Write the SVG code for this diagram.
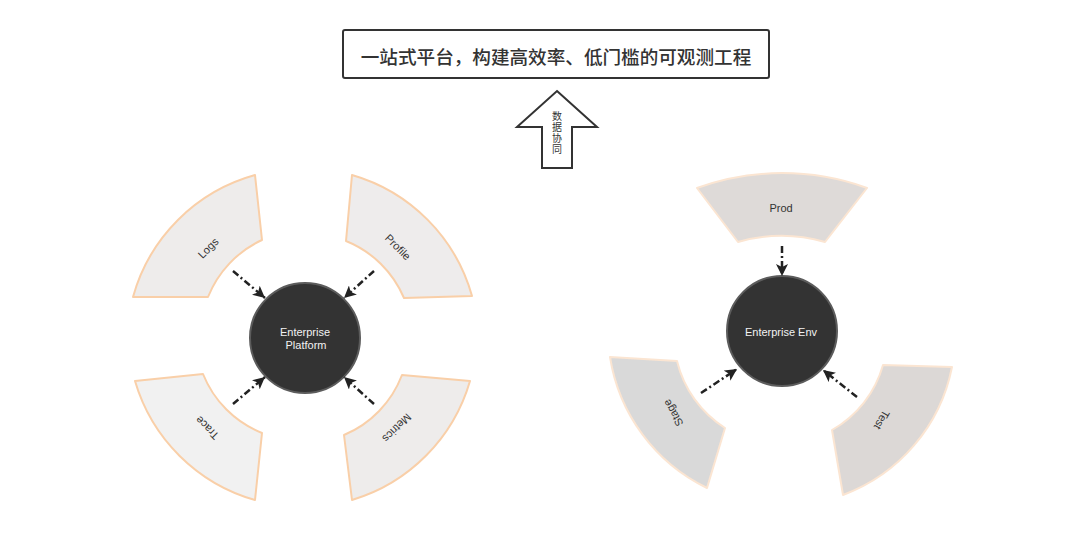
<svg xmlns="http://www.w3.org/2000/svg" width="1080" height="533" viewBox="0 0 1080 533">
<style>
.seg{stroke:#f9cfa8;stroke-width:2;stroke-linejoin:round}
.seg2{stroke:#fbe5d2;stroke-width:2;stroke-linejoin:round}
.lbl{font-family:"Liberation Sans",Arial,sans-serif;font-size:11px;fill:#333;text-anchor:middle;dominant-baseline:central}
.hub{fill:#333;stroke:#5c5c5c;stroke-width:2}
.hubt{font-family:"Liberation Sans",Arial,sans-serif;font-size:11px;fill:#f2f2f2;text-anchor:middle;dominant-baseline:central}
.con{fill:none;stroke:#222;stroke-width:2.5;stroke-dasharray:7 3 2 3;marker-end:url(#ah)}
.cjk{font-family:"Noto Sans CJK SC","Liberation Sans",sans-serif;fill:#333;text-anchor:middle}
</style>
<defs>
<marker id="ah" markerUnits="userSpaceOnUse" markerWidth="14" markerHeight="12" refX="12" refY="6" orient="auto">
<path d="M0,0 L12,6 L0,12 L3,6 Z" fill="#222"/>
</marker>
</defs>
<rect width="1080" height="533" fill="#fff"/>

<g id="title">
<rect x="343" y="30" width="426" height="48" rx="2" fill="#fff" stroke="#333" stroke-width="2"/>
<text class="cjk" x="556" y="55" font-size="18.6" font-weight="500" dominant-baseline="central">一站式平台，构建高效率、低门槛的可观测工程</text>
</g>

<g id="sync-arrow">
<polygon points="557,91 597,127 572,127 572,168 542,168 542,127 517,127" fill="#fff" stroke="#333" stroke-width="2" stroke-linejoin="miter"/>
<text class="cjk" x="557" y="133.5" font-size="10" letter-spacing="1.2" writing-mode="vertical-rl">数据协同</text>
</g>

<g id="logs">
<path class="seg" fill="#eeeceb" d="M133,297 A175,175 0 0 1 255,175 L262,240 A106,106 0 0 0 208,297 Z"/>
<text class="lbl" transform="translate(208,248) rotate(-45)">Logs</text>
</g>
<g id="profile">
<path class="seg" fill="#eeecec" d="M352,175 A175,175 0 0 1 472,296 L404,298 A106,106 0 0 0 346,241 Z"/>
<text class="lbl" transform="translate(398,247) rotate(45)">Profile</text>
</g>
<g id="trace">
<path class="seg" fill="#f1f1f1" d="M135,381 L203,374 A106,106 0 0 0 262,433 L255,500 A175,175 0 0 1 135,381 Z"/>
<text class="lbl" transform="translate(207,428) rotate(225)">Trace</text>
</g>
<g id="metrics">
<path class="seg" fill="#eeeceb" d="M402,375 L470,381 A175,175 0 0 1 352,500 L344,435 A106,106 0 0 0 402,375 Z"/>
<text class="lbl" transform="translate(397,428) rotate(135)">Metrics</text>
</g>
<g id="enterprise-platform">
<circle class="hub" cx="305" cy="338" r="55"/>
<text class="hubt" x="305" y="332">Enterprise</text>
<text class="hubt" x="306" y="345">Platform</text>
</g>

<g id="prod">
<path class="seg2" fill="#dedad8" d="M697,188 A250,250 0 0 1 867,188 L825,242 A160,160 0 0 0 738,242 Z"/>
<text class="lbl" x="781" y="208">Prod</text>
</g>
<g id="stage">
<path class="seg2" fill="#d9d9d9" d="M610,357 L677,361 A110,110 0 0 0 725,428 L707,488 A176,176 0 0 1 610,357 Z"/>
<text class="lbl" transform="translate(673,413) rotate(240)">Stage</text>
</g>
<g id="test">
<path class="seg2" fill="#dcd8d6" d="M883,365 L952,367 A172,172 0 0 1 843,495 L832,430 A108,108 0 0 0 883,365 Z"/>
<text class="lbl" transform="translate(882,420) rotate(120)">Test</text>
</g>
<g id="enterprise-env">
<circle class="hub" cx="782" cy="331" r="55"/>
<text class="hubt" x="781" y="332">Enterprise Env</text>
</g>

<g id="connectors">
<line class="con" x1="233" y1="271" x2="265" y2="298"/>
<line class="con" x1="374" y1="271" x2="344" y2="298"/>
<line class="con" x1="233" y1="404" x2="265" y2="377"/>
<line class="con" x1="374" y1="404" x2="344" y2="377"/>
<line class="con" x1="782" y1="246" x2="782" y2="276"/>
<line class="con" x1="701" y1="393" x2="737" y2="369"/>
<line class="con" x1="857" y1="397" x2="823" y2="370"/>
</g>
</svg>
